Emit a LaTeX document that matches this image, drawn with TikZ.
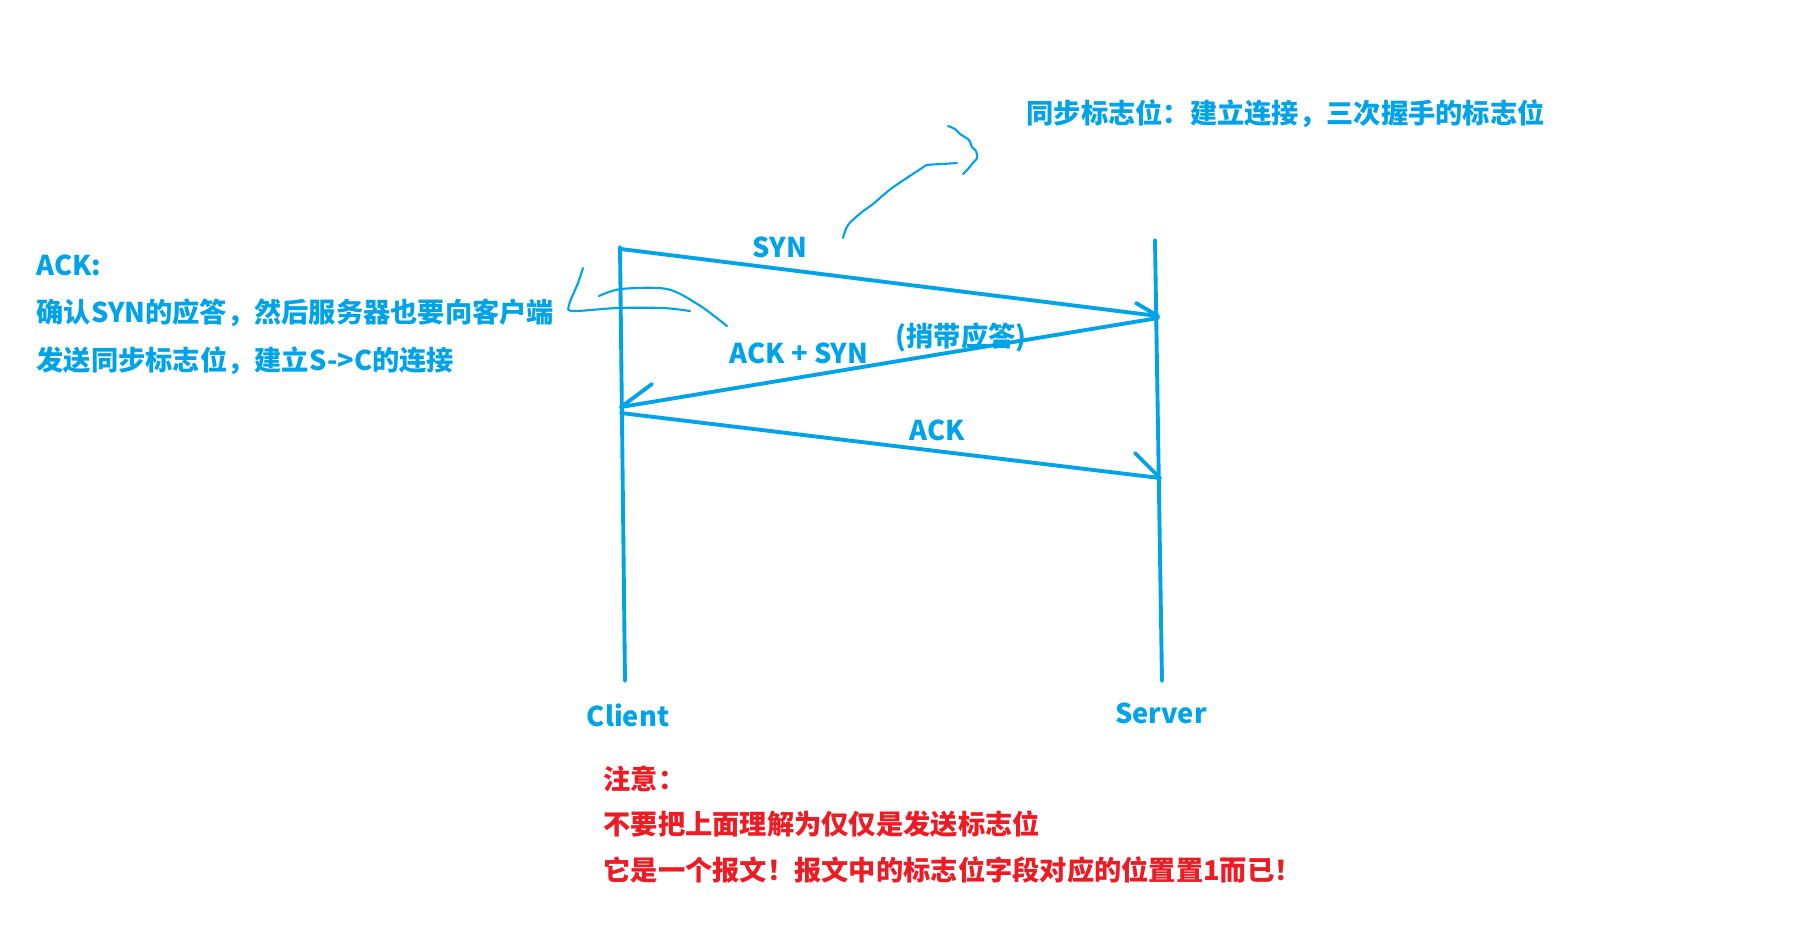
\documentclass[tikz,border=0pt]{standalone}
\usepackage{fontspec}
\setmainfont{Noto Sans CJK SC}[BoldFont={* Black}]
\definecolor{penblue}{HTML}{00A2E8}
\definecolor{penred}{HTML}{ED1C24}
\begin{document}
\begin{tikzpicture}[x=0.01cm,y=-0.01cm]
	\tikzset{line/.style = {draw=penblue,line width=1.1pt,line join=round,line cap=round}}
	\tikzset{scribble/.style = {draw=penblue,line width=.6pt,line cap=round}}
	\tikzset{bluetext/.style = {text=penblue,font=\fontsize{7.75pt}{9pt}\selectfont\bfseries,inner sep=0pt}}
	\tikzset{redtext/.style = {bluetext,text=penred,anchor=west}}
	\useasboundingbox (0,0) rectangle (1799,938);
	\coordinate (ctop) at (620,247);
	\coordinate (cbot) at (625,681);
	\coordinate (stop) at (1155,240);
	\coordinate (sbot) at (1162,681);
	\coordinate (syna) at (621,249);
	\coordinate (synb) at (1158,316);
	\coordinate (acksyna) at (1158,318);
	\coordinate (acksynb) at (621,407);
	\coordinate (acka) at (621,413);
	\coordinate (ackb) at (1160,478);
	\coordinate (synbarb) at (1136,303);
	\coordinate (acksynbarb) at (652,384);
	\coordinate (ackbarb) at (1135,453);
	\path[line] (ctop) -- (cbot);
	\path[line] (stop) -- (sbot);
	\path[line] (syna) -- (synb) -- (synbarb);
	\path[line] (acksyna) -- (acksynb) -- (acksynbarb);
	\path[line] (acka) -- (ackb) -- (ackbarb);
	\node[bluetext] (syn) at (780,247) {SYN};
	\node[bluetext] (acksyn) at (799,353) {ACK + SYN};
	\node[bluetext] (piggy) at (961,337) {(捎带应答)};
	\node[bluetext] (ack) at (937,430) {ACK};
	\node[bluetext] (client) at (628,715) {Client};
	\node[bluetext] (server) at (1161,713) {Server};
	\node[bluetext,anchor=west] (syntitle) at (1026,114) {同步标志位：建立连接，三次握手的标志位};
	\node[bluetext,anchor=west] (acktitle) at (36,265) {ACK:};
	\node[bluetext,anchor=west] (ackone) at (36,313) {确认SYN的应答，然后服务器也要向客户端};
	\node[bluetext,anchor=west] (acktwo) at (36,361) {发送同步标志位，建立S->C的连接};
	\node[redtext] (noteone) at (603,779) {注意：};
	\node[redtext] (notetwo) at (603,824) {不要把上面理解为仅仅是发送标志位};
	\node[redtext] (notethree) at (603,870) {它是一个报文！报文中的标志位字段对应的位置置1而已！};
	% pen strokes
	\draw[scribble] plot[smooth] coordinates {(843,238) (848,225) (862,212) (873,204) (892,188) (922,168) (927,165) (942,164) (957,163)};
	\draw[scribble] plot[smooth] coordinates {(948,126) (955,129) (960,134) (969,140) (972,147) (976,151) (977,158) (972,164) (968,169) (963,174)};
	\draw[scribble] plot[smooth] coordinates {(583,268) (578,283) (569,305) (573,311) (617,308) (663,308) (690,311)};
	\draw[scribble] plot[smooth] coordinates {(599,296) (621,289) (667,289) (699,305) (727,326)};
\end{tikzpicture}
\end{document}
